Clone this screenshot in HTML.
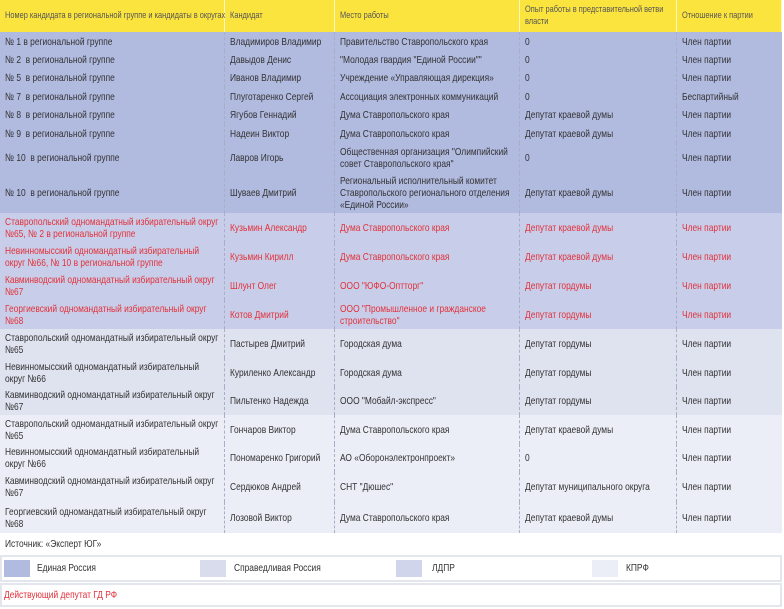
<!DOCTYPE html>
<html><head><meta charset="utf-8"><style>
*{margin:0;padding:0;box-sizing:border-box}
body{width:784px;height:609px;background:#fff;font-family:"Liberation Sans",sans-serif;font-size:10.5px;color:#333;position:relative;overflow:hidden}
.row{position:absolute;left:0;width:782px;display:flex}
.c{position:relative;display:flex;align-items:center;padding-left:5px;line-height:12px;border-right:1px dashed #a8aec6}
.c:last-child{border-right:none}
.c span{display:block;transform:scaleX(0.8);transform-origin:left center;white-space:nowrap}
.c1{width:225px}.c2{width:110px}.c3{width:185px}.c4{width:157px}.c5{width:105px}
.hd{background:#fce43f;color:#555;font-size:9.5px}
.hd .c{border-right:1px solid #fff6c0}
.hd .c span{transform:scaleX(0.78)}
.er{background:#b1badf}
.erd{background:#c8cee9;color:#e2313a}
.sr{background:#dfe2ef}
.kp{background:#eceef7}
.note{position:absolute;left:5px}
.box{position:absolute;left:0;width:782px;border:2px solid #e4e6ee}
.sw{position:absolute;top:3px;width:26px;height:17px}
.lt{position:absolute;top:5px}
.lt span,.note span{display:inline-block;transform:scaleX(0.8);transform-origin:left center;white-space:nowrap}
</style></head><body>
<div class="row hd" style="top:0;height:32px">
<div class="c c1"><span>Номер кандидата в региональной группе и кандидаты в округах</span></div>
<div class="c c2"><span>Кандидат</span></div>
<div class="c c3"><span>Место работы</span></div>
<div class="c c4"><span>Опыт работы в представительной ветви<br>власти</span></div>
<div class="c c5"><span>Отношение к партии</span></div>
</div>

<div class="row er" style="top:32px;height:19px"><div class="c c1"><span>№ 1 в региональной группе</span></div><div class="c c2"><span>Владимиров Владимир</span></div><div class="c c3"><span>Правительство Ставропольского края</span></div><div class="c c4"><span>0</span></div><div class="c c5"><span>Член партии</span></div></div>
<div class="row er" style="top:51px;height:18px"><div class="c c1"><span>№ 2 &nbsp;в региональной группе</span></div><div class="c c2"><span>Давыдов Денис</span></div><div class="c c3"><span>"Молодая гвардия "Единой России""</span></div><div class="c c4"><span>0</span></div><div class="c c5"><span>Член партии</span></div></div>
<div class="row er" style="top:69px;height:18px"><div class="c c1"><span>№ 5 &nbsp;в региональной группе</span></div><div class="c c2"><span>Иванов Владимир</span></div><div class="c c3"><span>Учреждение «Управляющая дирекция»</span></div><div class="c c4"><span>0</span></div><div class="c c5"><span>Член партии</span></div></div>
<div class="row er" style="top:87px;height:19px"><div class="c c1"><span>№ 7 &nbsp;в региональной группе</span></div><div class="c c2"><span>Плуготаренко Сергей</span></div><div class="c c3"><span>Ассоциация электронных коммуникаций</span></div><div class="c c4"><span>0</span></div><div class="c c5"><span>Беспартийный</span></div></div>
<div class="row er" style="top:106px;height:18px"><div class="c c1"><span>№ 8 &nbsp;в региональной группе</span></div><div class="c c2"><span>Ягубов Геннадий</span></div><div class="c c3"><span>Дума Ставропольского края</span></div><div class="c c4"><span>Депутат краевой думы</span></div><div class="c c5"><span>Член партии</span></div></div>
<div class="row er" style="top:124px;height:19px"><div class="c c1"><span>№ 9 &nbsp;в региональной группе</span></div><div class="c c2"><span>Надеин Виктор</span></div><div class="c c3"><span>Дума Ставропольского края</span></div><div class="c c4"><span>Депутат краевой думы</span></div><div class="c c5"><span>Член партии</span></div></div>
<div class="row er" style="top:143px;height:30px"><div class="c c1"><span>№ 10 &nbsp;в региональной группе</span></div><div class="c c2"><span>Лавров Игорь</span></div><div class="c c3"><span>Общественная организация "Олимпийский<br>совет Ставропольского края"</span></div><div class="c c4"><span>0</span></div><div class="c c5"><span>Член партии</span></div></div>
<div class="row er" style="top:173px;height:40px"><div class="c c1"><span>№ 10 &nbsp;в региональной группе</span></div><div class="c c2"><span>Шуваев Дмитрий</span></div><div class="c c3"><span>Региональный исполнительный комитет<br>Ставропольского регионального отделения<br>«Единой России»</span></div><div class="c c4"><span>Депутат краевой думы</span></div><div class="c c5"><span>Член партии</span></div></div>

<div class="row erd" style="top:213px;height:30px"><div class="c c1"><span>Ставропольский одномандатный избирательный округ<br>№65, № 2 в региональной группе</span></div><div class="c c2"><span>Кузьмин Александр</span></div><div class="c c3"><span>Дума Ставропольского края</span></div><div class="c c4"><span>Депутат краевой думы</span></div><div class="c c5"><span>Член партии</span></div></div>
<div class="row erd" style="top:243px;height:28px"><div class="c c1"><span>Невинномысский одномандатный избирательный<br>округ №66, № 10 в региональной группе</span></div><div class="c c2"><span>Кузьмин Кирилл</span></div><div class="c c3"><span>Дума Ставропольского края</span></div><div class="c c4"><span>Депутат краевой думы</span></div><div class="c c5"><span>Член партии</span></div></div>
<div class="row erd" style="top:271px;height:29px"><div class="c c1"><span>Кавминводский одномандатный избирательный округ<br>№67</span></div><div class="c c2"><span>Шлунт Олег</span></div><div class="c c3"><span>ООО "ЮФО-Оптторг"</span></div><div class="c c4"><span>Депутат гордумы</span></div><div class="c c5"><span>Член партии</span></div></div>
<div class="row erd" style="top:300px;height:29px"><div class="c c1"><span>Георгиевский одномандатный избирательный округ<br>№68</span></div><div class="c c2"><span>Котов Дмитрий</span></div><div class="c c3"><span>ООО "Промышленное и гражданское<br>строительство"</span></div><div class="c c4"><span>Депутат гордумы</span></div><div class="c c5"><span>Член партии</span></div></div>

<div class="row sr" style="top:329px;height:29px"><div class="c c1"><span>Ставропольский одномандатный избирательный округ<br>№65</span></div><div class="c c2"><span>Пастырев Дмитрий</span></div><div class="c c3"><span>Городская дума</span></div><div class="c c4"><span>Депутат гордумы</span></div><div class="c c5"><span>Член партии</span></div></div>
<div class="row sr" style="top:358px;height:29px"><div class="c c1"><span>Невинномысский одномандатный избирательный<br>округ №66</span></div><div class="c c2"><span>Куриленко Александр</span></div><div class="c c3"><span>Городская дума</span></div><div class="c c4"><span>Депутат гордумы</span></div><div class="c c5"><span>Член партии</span></div></div>
<div class="row sr" style="top:387px;height:28px"><div class="c c1"><span>Кавминводский одномандатный избирательный округ<br>№67</span></div><div class="c c2"><span>Пильтенко Надежда</span></div><div class="c c3"><span>ООО "Мобайл-экспресс"</span></div><div class="c c4"><span>Депутат гордумы</span></div><div class="c c5"><span>Член партии</span></div></div>

<div class="row kp" style="top:415px;height:29px"><div class="c c1"><span>Ставропольский одномандатный избирательный округ<br>№65</span></div><div class="c c2"><span>Гончаров Виктор</span></div><div class="c c3"><span>Дума Ставропольского края</span></div><div class="c c4"><span>Депутат краевой думы</span></div><div class="c c5"><span>Член партии</span></div></div>
<div class="row kp" style="top:444px;height:28px"><div class="c c1"><span>Невинномысский одномандатный избирательный<br>округ №66</span></div><div class="c c2"><span>Пономаренко Григорий</span></div><div class="c c3"><span>АО «Оборонэлектронпроект»</span></div><div class="c c4"><span>0</span></div><div class="c c5"><span>Член партии</span></div></div>
<div class="row kp" style="top:472px;height:30px"><div class="c c1"><span>Кавминводский одномандатный избирательный округ<br>№67</span></div><div class="c c2"><span>Сердюков Андрей</span></div><div class="c c3"><span>СНТ "Дюшес"</span></div><div class="c c4"><span>Депутат муниципального округа</span></div><div class="c c5"><span>Член партии</span></div></div>
<div class="row kp" style="top:502px;height:31px"><div class="c c1"><span>Георгиевский одномандатный избирательный округ<br>№68</span></div><div class="c c2"><span>Лозовой Виктор</span></div><div class="c c3"><span>Дума Ставропольского края</span></div><div class="c c4"><span>Депутат краевой думы</span></div><div class="c c5"><span>Член партии</span></div></div>

<div class="note" style="top:538px"><span>Источник: «Эксперт ЮГ»</span></div>

<div class="box" style="top:555px;height:27px">
<div class="sw" style="left:2px;background:#b1badf"></div><div class="lt" style="left:35px"><span>Единая Россия</span></div>
<div class="sw" style="left:198px;background:#d8dced"></div><div class="lt" style="left:232px"><span>Справедливая Россия</span></div>
<div class="sw" style="left:394px;background:#d0d5eb"></div><div class="lt" style="left:430px"><span>ЛДПР</span></div>
<div class="sw" style="left:590px;background:#eceef7"></div><div class="lt" style="left:624px"><span>КПРФ</span></div>
</div>
<div class="box" style="top:583px;height:24px">
<div class="lt" style="left:2px;top:4px;color:#e2313a"><span>Действующий депутат ГД РФ</span></div>
</div>
</body></html>
